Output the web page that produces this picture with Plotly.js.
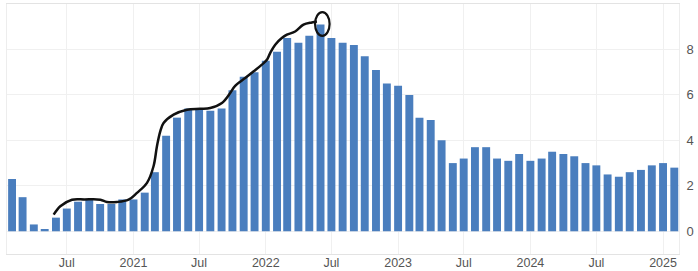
<!DOCTYPE html>
<html>
<head>
<meta charset="utf-8">
<script src="https://cdn.plot.ly/plotly-3.0.1.min.js"></script>
<style>
  html, body { margin: 0; padding: 0; background: #ffffff; }
  #chart { width: 698px; height: 271px; }
</style>
</head>
<body>
<div id="chart"></div>
<script>
// Monthly categories (bars placed at month start)
const months = [
  '2020-02','2020-03','2020-04','2020-05','2020-06','2020-07','2020-08','2020-09','2020-10','2020-11','2020-12',
  '2021-01','2021-02','2021-03','2021-04','2021-05','2021-06','2021-07','2021-08','2021-09','2021-10','2021-11','2021-12',
  '2022-01','2022-02','2022-03','2022-04','2022-05','2022-06','2022-07','2022-08','2022-09','2022-10','2022-11','2022-12',
  '2023-01','2023-02','2023-03','2023-04','2023-05','2023-06','2023-07','2023-08','2023-09','2023-10','2023-11','2023-12',
  '2024-01','2024-02','2024-03','2024-04','2024-05','2024-06','2024-07','2024-08','2024-09','2024-10','2024-11','2024-12',
  '2025-01','2025-02'
];
// Values (%)
const values = [
  2.3, 1.5, 0.3, 0.1, 0.6, 1.0, 1.3, 1.4, 1.2, 1.2, 1.4,
  1.4, 1.7, 2.6, 4.2, 5.0, 5.4, 5.4, 5.3, 5.4, 6.2, 6.8, 7.0,
  7.5, 7.9, 8.5, 8.3, 8.6, 9.1, 8.5, 8.3, 8.2, 7.7, 7.1, 6.5,
  6.4, 6.0, 5.0, 4.9, 4.0, 3.0, 3.2, 3.7, 3.7, 3.2, 3.1, 3.4,
  3.1, 3.2, 3.5, 3.4, 3.3, 3.0, 2.9, 2.5, 2.4, 2.6, 2.7, 2.9,
  3.0, 2.8
];
// Tick labels
const tickDates = ['2020-07-01','2021-01-01','2021-07-01','2022-01-01','2022-07-01','2023-01-01','2023-07-01','2024-01-01','2024-07-01','2025-01-01'];
const tickLabels = ['Jul','2021','Jul','2022','Jul','2023','Jul','2024','Jul','2025'];
const yTicks = [0, 2, 4, 6, 8];

// Hand-drawn annotation curve: x in months since 2020-01-01 (fractional), y in %
const sketchMonths = [4.79, 5.39, 6.45, 7.6, 9.02, 9.62, 10.53, 11.58, 12.34, 13.25, 13.84, 14.15, 14.45, 14.75, 15.66, 16.87, 18.07, 18.98, 20.04, 20.79, 21.24, 22.15, 22.90, 23.66, 24.12, 24.41, 24.87, 25.47, 25.93, 26.68, 27.43, 28.19, 28.65];
const sketchValues = [0.73, 1.10, 1.39, 1.40, 1.39, 1.29, 1.29, 1.39, 1.69, 2.13, 2.86, 3.74, 4.40, 4.76, 5.13, 5.35, 5.39, 5.42, 5.64, 6.08, 6.40, 6.74, 7.03, 7.33, 7.55, 7.84, 8.21, 8.50, 8.65, 8.79, 9.09, 9.19, 9.23];
// Hand-drawn circle around the peak: centre (months, %) and radii
const circleCentre = [29.14, 9.12];
const circleRadius = [0.66, 0.52];

function monthToDate(m) {
  const ms = Date.UTC(2020, 0, 1) + m * 30.4375 * 86400000;
  return new Date(ms).toISOString().slice(0, 19).replace('T', ' ');
}

const barTrace = {
  type: 'bar',
  x: months.map(m => m + '-01'),
  y: values,
  marker: { color: '#4a7ebe', line: { width: 0 } },
  hoverinfo: 'x+y'
};

const sketchTrace = {
  type: 'scatter',
  mode: 'lines',
  x: sketchMonths.map(monthToDate),
  y: sketchValues,
  line: { color: '#111111', width: 2.5, shape: 'spline', smoothing: 1 },
  hoverinfo: 'skip'
};

const layout = {
  width: 698,
  height: 271,
  margin: { l: 7, r: 19, t: 4, b: 17 },
  paper_bgcolor: '#ffffff',
  plot_bgcolor: '#ffffff',
  showlegend: false,
  bargap: 0.22,
  font: { family: 'Liberation Sans, Arial, sans-serif', size: 13, color: '#555555' },
  xaxis: {
    type: 'date',
    range: ['2020-01-18', '2025-02-14'],
    tickvals: tickDates,
    ticktext: tickLabels,
    ticks: '',
    showgrid: true,
    gridcolor: '#f0f0f0',
    gridwidth: 1,
    showline: true,
    linecolor: '#e3e3e3',
    linewidth: 1,
    mirror: true,
    zeroline: false,
    ticklabelstandoff: -3,
    tickfont: { size: 12.5, color: '#555555' },
    automargin: false
  },
  yaxis: {
    side: 'right',
    range: [-1, 10],
    tickvals: yTicks,
    ticktext: yTicks.map(String),
    ticks: '',
    showgrid: true,
    gridcolor: '#f0f0f0',
    gridwidth: 1,
    showline: true,
    linecolor: '#ededed',
    linewidth: 1,
    mirror: true,
    zeroline: false,
    ticklabelstandoff: 4,
    tickfont: { size: 13, color: '#555555' },
    automargin: false
  },
  shapes: [{
    type: 'circle',
    xref: 'x', yref: 'y',
    x0: monthToDate(circleCentre[0] - circleRadius[0]),
    x1: monthToDate(circleCentre[0] + circleRadius[0]),
    y0: circleCentre[1] - circleRadius[1],
    y1: circleCentre[1] + circleRadius[1],
    line: { color: '#111111', width: 2.2 },
    fillcolor: 'rgba(0,0,0,0)'
  }]
};

Plotly.newPlot('chart', [barTrace, sketchTrace], layout, { displayModeBar: false, staticPlot: true });
</script>
</body>
</html>
